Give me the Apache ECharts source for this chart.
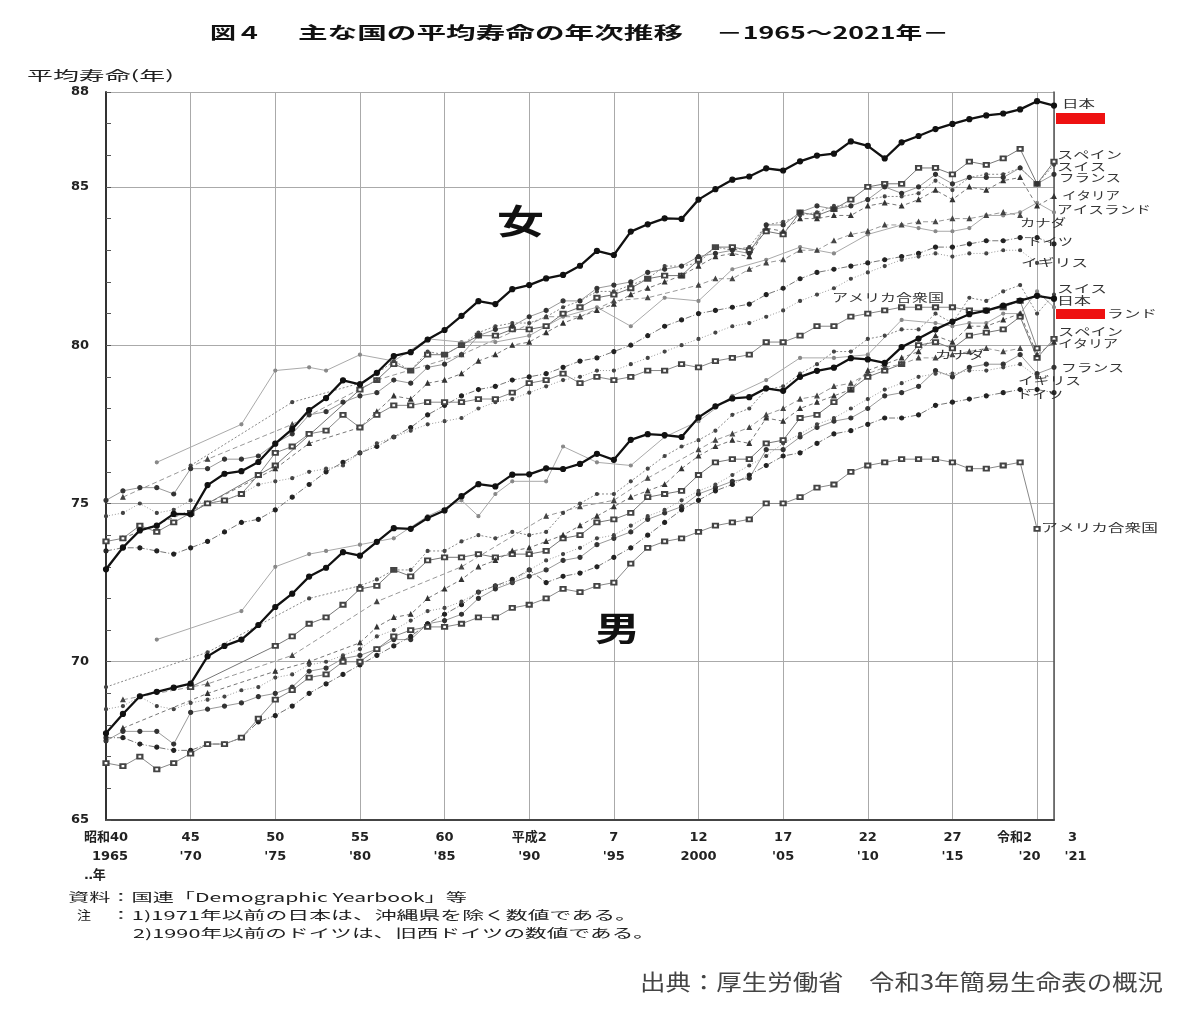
<!DOCTYPE html>
<html><head><meta charset="utf-8">
<script src="https://cdn.jsdelivr.net/npm/echarts@6/dist/echarts.min.js"></script>
<style>html,body{margin:0;padding:0;background:#fff}#c{width:1200px;height:1021px}</style>
</head><body><div id="c"></div>
<script>
// ---------- data ----------
const years = [1965,1966,1967,1968,1969,1970,1971,1972,1973,1974,1975,1976,1977,1978,1979,1980,1981,1982,1983,1984,1985,1986,1987,1988,1989,1990,1991,1992,1993,1994,1995,1996,1997,1998,1999,2000,2001,2002,2003,2004,2005,2006,2007,2008,2009,2010,2011,2012,2013,2014,2015,2016,2017,2018,2019,2020,2021];
const tickYears = [1965,1970,1975,1980,1985,1990,1995,2000,2005,2010,2015,2020,2021];
const tickEra = ['昭和40','45','50','55','60','平成2','7','12','17','22','27','令和2','3'];
const tickAD = ['1965',"'70","'75","'80","'85","'90","'95",'2000',"'05","'10","'15","'20","'21"];
const countries = ['日本','スペイン','スイス','フランス','イタリア','アイスランド','カナダ','ドイツ','イギリス','アメリカ合衆国'];

// female
const jpF = [72.92,73.61,74.15,74.30,74.67,74.66,75.58,75.94,76.02,76.31,76.89,77.35,77.95,78.33,78.89,78.76,79.13,79.66,79.78,80.18,80.48,80.93,81.39,81.30,81.77,81.90,82.11,82.22,82.51,82.98,82.85,83.59,83.82,84.01,83.99,84.60,84.93,85.23,85.33,85.59,85.52,85.81,85.99,86.05,86.44,86.30,85.90,86.41,86.61,86.83,86.99,87.14,87.26,87.32,87.45,87.71,87.57];
const esF = [null,null,null,null,null,74.7,null,null,null,null,76.2,null,null,null,null,78.6,78.9,79.4,79.2,79.7,79.7,80.0,80.3,80.3,80.5,80.5,80.6,81.0,81.2,81.5,81.6,81.8,82.1,82.2,82.2,82.7,83.1,83.1,83.0,83.6,83.5,84.2,84.1,84.3,84.6,85.0,85.1,85.1,85.6,85.6,85.4,85.8,85.7,85.9,86.2,85.1,85.8];
const chF = [null,null,null,null,null,76.2,null,null,null,null,null,78.2,null,null,null,78.8,79.1,79.5,79.2,79.8,79.7,80.0,80.4,80.6,80.7,80.7,80.9,81.2,81.4,81.7,81.7,81.9,82.1,82.5,82.5,82.6,83.1,83.0,83.1,83.8,83.9,84.1,84.2,84.4,84.4,84.6,84.7,84.7,84.8,85.2,84.9,85.3,85.4,85.4,85.6,85.1,85.7];
const frF = [75.1,75.4,75.5,75.5,75.3,76.1,76.1,76.4,76.4,76.5,76.9,77.2,77.8,77.9,78.2,78.4,78.5,78.9,78.8,79.3,79.4,79.7,80.3,80.5,80.6,80.9,81.1,81.4,81.4,81.8,81.9,82.0,82.3,82.4,82.5,82.8,82.9,83.0,82.9,83.8,83.8,84.2,84.4,84.3,84.4,84.6,85.0,84.8,85.0,85.4,85.1,85.3,85.3,85.3,85.6,85.1,85.4];
const itF = [null,73.9,null,null,null,null,75.0,null,null,null,76.1,null,76.9,null,null,77.4,77.9,78.4,78.3,78.8,78.9,79.1,79.5,79.7,80.0,80.1,80.4,80.7,80.9,81.1,81.3,81.6,81.8,82.0,82.2,82.5,82.8,82.9,82.8,83.7,83.6,84.0,84.0,84.1,84.1,84.4,84.5,84.4,84.6,84.9,84.6,85.0,84.9,85.2,85.3,84.4,84.7];
const isF = [null,null,null,76.3,null,null,null,null,77.5,null,79.2,null,79.3,79.2,null,79.7,null,79.5,null,80.2,null,80.1,null,80.1,null,80.3,null,80.9,null,81.2,null,80.6,null,81.5,null,81.4,null,82.4,null,82.7,null,83.1,null,82.9,null,83.5,null,83.8,83.7,83.6,83.6,83.7,84.1,84.1,84.2,84.5,84.2];
const caF = [null,75.2,null,null,null,null,76.4,null,null,null,null,77.5,null,null,null,null,78.9,null,null,null,null,79.7,null,null,null,null,80.9,null,80.9,null,81.4,null,81.5,null,null,81.9,82.1,82.1,82.4,82.6,82.7,83.0,83.0,83.3,83.5,83.6,83.8,83.8,83.9,83.9,84.0,84.0,84.1,84.2,84.1,null,null];
const deF = [73.5,73.6,73.6,73.5,73.4,73.6,73.8,74.1,74.4,74.5,74.8,75.2,75.6,76.0,76.3,76.6,76.8,77.1,77.4,77.8,78.1,78.4,78.6,78.7,78.9,79.0,79.1,79.3,79.5,79.6,79.8,80.0,80.3,80.6,80.8,81.0,81.1,81.2,81.3,81.6,81.8,82.1,82.3,82.4,82.5,82.6,82.7,82.8,82.9,83.1,83.1,83.2,83.3,83.3,83.4,83.4,83.2];
const gbF = [74.6,74.7,75.0,74.7,74.8,75.1,75.0,75.1,75.3,75.6,75.7,75.8,76.0,76.1,76.2,76.6,76.9,77.1,77.3,77.5,77.6,77.7,78.0,78.2,78.3,78.5,78.7,78.9,79.0,79.2,79.2,79.4,79.6,79.8,80.0,80.2,80.4,80.6,80.7,80.9,81.1,81.4,81.6,81.8,82.1,82.3,82.5,82.7,82.8,82.9,82.8,82.9,82.9,83.0,83.0,82.6,null];
const usF = [73.8,73.9,74.3,74.1,74.4,74.7,75.0,75.1,75.3,75.9,76.6,76.8,77.2,77.3,77.8,77.4,77.8,78.1,78.1,78.2,78.2,78.2,78.3,78.3,78.5,78.8,78.9,79.1,78.8,79.0,78.9,79.0,79.2,79.2,79.4,79.3,79.5,79.6,79.7,80.1,80.1,80.3,80.6,80.6,80.9,81.0,81.1,81.2,81.2,81.2,81.2,81.1,81.1,81.2,81.4,79.9,null];

// male
const jpM = [67.74,68.35,68.91,69.05,69.18,69.31,70.17,70.50,70.70,71.16,71.73,72.15,72.69,72.97,73.46,73.35,73.79,74.22,74.20,74.54,74.78,75.23,75.61,75.54,75.91,75.92,76.11,76.09,76.25,76.57,76.38,77.01,77.19,77.16,77.10,77.72,78.07,78.32,78.36,78.64,78.56,79.00,79.19,79.29,79.59,79.55,79.44,79.94,80.21,80.50,80.75,80.98,81.09,81.25,81.41,81.56,81.47];
const esM = [null,null,null,null,null,69.2,null,null,null,null,70.5,70.8,71.2,71.4,71.8,72.3,72.4,72.9,72.7,73.2,73.3,73.3,73.4,73.3,73.4,73.4,73.5,73.9,74.0,74.4,74.5,74.7,75.2,75.3,75.4,75.9,76.3,76.4,76.4,76.9,77.0,77.7,77.8,78.2,78.6,79.0,79.2,79.4,80.0,80.1,79.9,80.3,80.4,80.5,80.9,79.6,80.2];
const chM = [69.2,null,null,null,null,null,70.3,null,null,null,null,null,72.0,null,null,72.4,72.6,72.9,72.9,73.5,73.5,73.8,74.0,73.9,74.1,74.0,74.1,74.7,75.0,75.3,75.3,75.7,76.1,76.5,76.8,77.0,77.3,77.8,78.0,78.6,78.7,79.1,79.4,79.8,79.8,80.2,80.3,80.5,80.5,81.0,80.7,81.5,81.4,81.7,81.9,81.0,81.6];
const frM = [67.5,67.8,67.8,67.8,67.4,68.4,68.5,68.6,68.7,68.9,69.0,69.2,69.7,69.8,70.1,70.2,70.4,70.7,70.7,71.2,71.3,71.5,72.0,72.3,72.5,72.7,72.9,73.2,73.3,73.7,73.9,74.1,74.5,74.7,74.9,75.3,75.5,75.7,75.8,76.7,76.7,77.1,77.4,77.6,77.7,78.0,78.4,78.5,78.7,79.2,79.0,79.3,79.4,79.4,79.7,79.1,79.3];
const itM = [null,67.9,null,null,null,null,69.0,null,null,null,69.7,null,70.0,null,null,70.6,71.1,71.4,71.5,72.0,72.3,72.6,73.0,73.2,73.5,73.6,73.8,74.0,74.3,74.6,74.9,75.2,75.4,75.6,76.1,76.5,76.8,77.0,76.9,77.7,77.6,78.0,78.2,78.4,78.6,79.2,79.4,79.6,79.8,80.3,80.1,80.6,80.6,80.8,81.0,79.7,80.1];
const isM = [null,null,null,70.7,null,null,null,null,71.6,null,73.0,null,73.4,73.5,null,73.7,null,73.9,null,74.6,null,75.1,74.6,75.3,75.7,null,75.7,76.8,null,76.3,null,76.2,null,77.1,null,77.6,null,78.4,null,78.9,null,79.6,null,79.6,null,79.7,null,80.8,null,80.7,80.6,80.7,80.7,81.0,81.0,81.7,81.2];
const caM = [null,68.8,null,null,null,null,69.3,null,null,null,null,70.2,null,null,null,null,71.9,null,null,null,null,73.0,null,null,null,null,74.6,null,74.9,null,75.1,null,75.8,null,null,76.7,77.0,77.2,77.4,77.8,78.0,78.3,78.4,78.7,78.8,79.1,79.3,79.4,79.6,79.6,79.7,79.8,79.9,79.8,79.9,null,null];
const deM = [67.6,67.6,67.4,67.3,67.2,67.2,67.4,67.4,67.6,68.1,68.3,68.6,69.0,69.3,69.6,69.9,70.2,70.5,70.8,71.2,71.5,71.8,72.2,72.4,72.6,72.9,72.5,72.7,72.8,73.0,73.3,73.6,74.0,74.4,74.8,75.1,75.4,75.6,75.9,76.2,76.5,76.6,76.9,77.2,77.3,77.5,77.7,77.7,77.8,78.1,78.2,78.3,78.4,78.5,78.6,78.6,78.5];
const gbM = [68.5,68.6,68.9,68.6,68.5,68.7,68.8,68.9,69.1,69.2,69.5,69.6,69.9,70.0,70.2,70.4,70.8,71.0,71.3,71.6,71.7,71.9,72.2,72.4,72.5,72.9,73.2,73.4,73.6,73.9,74.0,74.3,74.6,74.8,75.1,75.4,75.6,75.9,76.2,76.5,76.9,77.2,77.5,77.7,78.0,78.3,78.6,78.8,79.0,79.1,79.1,79.2,79.2,79.3,79.4,79.0,null];
const usM = [66.8,66.7,67.0,66.6,66.8,67.1,67.4,67.4,67.6,68.2,68.8,69.1,69.5,69.6,70.0,70.0,70.4,70.8,71.0,71.1,71.1,71.2,71.4,71.4,71.7,71.8,72.0,72.3,72.2,72.4,72.5,73.1,73.6,73.8,73.9,74.1,74.3,74.4,74.5,75.0,75.0,75.2,75.5,75.6,76.0,76.2,76.3,76.4,76.4,76.4,76.3,76.1,76.1,76.2,76.3,74.2,null];

const femaleData = [jpF,esF,chF,frF,itF,isF,caF,deF,gbF,usF];
const maleData   = [jpM,esM,chM,frM,itM,isM,caM,deM,gbM,usM];

// ---------- styles ----------
const styles = [
  {symbol:'circle', size:5, mark:'#111', line:'#111', width:2.3, type:'solid', z:5},
  {symbol:'emptyRect', size:[5,4], mark:'#444', line:'#777', width:1, type:'solid', z:3},
  {symbol:'circle', size:3, mark:'#444', line:'#888', width:1, type:[2,2], z:3},
  {symbol:'circle', size:4, mark:'#333', line:'#999', width:1, type:'solid', z:3},
  {symbol:'triangle', size:4, mark:'#333', line:'#777', width:1, type:[4,3], z:3},
  {symbol:'circle', size:3, mark:'#888', line:'#aaa', width:1, type:'solid', z:2},
  {symbol:'triangle', size:4, mark:'#444', line:'#999', width:1, type:[5,3], z:3},
  {symbol:'circle', size:4, mark:'#222', line:'#777', width:1, type:[6,2,1,2], z:3},
  {symbol:'circle', size:3, mark:'#444', line:'#999', width:1, type:[1,2], z:3},
  {symbol:'emptyRect', size:[5,4], mark:'#444', line:'#888', width:1, type:'solid', z:3}
];

const FONT = '"Noto Sans CJK JP", "Noto Sans", sans-serif';
const AXFONT = '"DejaVu Sans", "Noto Sans CJK JP", sans-serif';

const series = [];
function addSeries(data, i, sex) {
  const s = styles[i];
  series.push({
    name: countries[i] + sex, type:'line', data: data, connectNulls:true,
    symbol: s.symbol, symbolSize: s.size, showSymbol:true, showAllSymbol:true,
    lineStyle:{color:s.line, width:s.width, type:s.type},
    itemStyle:{color:s.mark, borderColor:s.mark, borderWidth:1.2},
    z: s.z, silent:true, animation:false
  });
}
countries.forEach((c,i)=>{ addSeries(femaleData[i], i, '（女）'); addSeries(maleData[i], i, '（男）'); });

// ---------- text helper (stretched text like reference) ----------
const mctx = document.createElement('canvas').getContext('2d');
function fitText(text, left, right, cy, size, weight, color, z) {
  const font = (weight||'normal') + ' ' + size + 'px ' + FONT;
  mctx.font = font;
  const w = mctx.measureText(text).width || 1;
  return {type:'text', x:left, y:cy, scaleX:(right-left)/w, z:z||50, silent:true,
    style:{text:text, font:font, fill:color||'#333', align:'left', verticalAlign:'middle',
           textAlign:'left', textVerticalAlign:'middle'}};
}

const graphics = [
  fitText('図４', 210, 262, 33, 17, 'bold', '#111'),
  fitText('主な国の平均寿命の年次推移', 298, 683, 33, 17, 'bold', '#111'),
  fitText('－1965～2021年－', 716, 949, 33, 17, 'bold', '#111'),
  fitText('平均寿命(年)', 27, 174, 75, 13, 'normal', '#222'),
  fitText('女', 497, 544, 221, 34, 'bold', '#111'),
  fitText('男', 595, 640, 628, 34, 'bold', '#111'),
  // female labels
  fitText('日本', 1062, 1095, 104, 11, 'normal', '#333'),
  fitText('スペイン', 1057, 1122, 155, 11, 'normal', '#333'),
  fitText('スイス', 1057, 1106, 167, 11, 'normal', '#333'),
  fitText('フランス', 1059, 1121, 178, 11, 'normal', '#333'),
  fitText('イタリア', 1062, 1120, 196, 11, 'normal', '#333'),
  fitText('アイスランド', 1057, 1151, 210, 11, 'normal', '#333'),
  fitText('カナダ', 1020, 1066, 223, 11, 'normal', '#333'),
  fitText('ドイツ', 1027, 1073, 242, 11, 'normal', '#333'),
  fitText('イギリス', 1021, 1088, 263, 11, 'normal', '#333'),
  fitText('アメリカ合衆国', 832, 944, 298, 11, 'normal', '#333'),
  // male labels
  fitText('スイス', 1057, 1107, 289, 11, 'normal', '#333'),
  fitText('日本', 1057, 1091, 301, 11, 'normal', '#333'),
  fitText('アイスランド', 1057, 1157, 314, 11, 'normal', '#333'),
  fitText('スペイン', 1058, 1123, 332, 11, 'normal', '#333'),
  fitText('イタリア', 1058, 1118, 344, 11, 'normal', '#333'),
  fitText('フランス', 1061, 1124, 368, 11, 'normal', '#333'),
  fitText('イギリス', 1018, 1081, 381, 11, 'normal', '#333'),
  fitText('ドイツ', 1017, 1063, 395, 11, 'normal', '#333'),
  fitText('カナダ', 935, 985, 355, 11, 'normal', '#333'),
  fitText('アメリカ合衆国', 1041, 1158, 528, 11, 'normal', '#333'),
  // notes
  fitText('資料：国連「Demographic Yearbook」等', 68, 467, 897, 12, 'normal', '#222'),
  fitText('注', 77, 91, 915, 12, 'normal', '#222'),
  fitText('：1)1971年以前の日本は、沖縄県を除く数値である。', 110, 637, 915, 12, 'normal', '#222'),
  fitText('2)1990年以前のドイツは、旧西ドイツの数値である。', 133, 655, 933, 12, 'normal', '#222'),
  fitText('出典：厚生労働省　令和3年簡易生命表の概況', 640, 1163, 982, 22, 'normal', '#444'),
  // red bars
  {type:'rect', shape:{x:1056, y:113, width:49, height:11}, style:{fill:'#ee1111'}, z:100, silent:true},
  {type:'rect', shape:{x:1056, y:309, width:49, height:10}, style:{fill:'#ee1111'}, z:100, silent:true}
];

const lblBase = {fontSize:13, fontWeight:'bold', lineHeight:19, color:'#222', fontFamily:AXFONT};
const k20 = tickYears.indexOf(2020), k21 = tickYears.indexOf(2021);

const option = {
  animation:false,
  backgroundColor:'#fff',
  grid:{left:106, right:146, top:92, bottom:201, containLabel:false},
  xAxis:{
    type:'category', data: years.map(String), boundaryGap:false,
    axisLine:{show:true, lineStyle:{color:'#444', width:2}},
    axisTick:{show:false},
    splitLine:{show:true, interval:(i,v)=>tickYears.indexOf(+v)>=0, lineStyle:{color:'#aaa', width:1}},
    axisLabel:{
      // 2020 and 2021 share one label block (they sit 1 year apart)
      interval:(i,v)=>tickYears.indexOf(+v)>=0 && +v!==2021, margin:8, color:'#222',
      showMinLabel:true, showMaxLabel:true, hideOverlap:false,
      formatter:(v)=>{
        const k = tickYears.indexOf(+v);
        if (k<0 || +v===2021) return '';
        if (+v===1965) return '{a|'+tickEra[k]+'}\n{b|'+tickAD[k]+'}\n{u|‥年}';
        if (+v===2020) return '{a|'+tickEra[k20]+'}{r1|'+tickEra[k21]+'}\n{l2|'+tickAD[k20]+'}{r2|'+tickAD[k21]+'}';
        return '{a|'+tickEra[k]+'}\n{a|'+tickAD[k]+'}';
      },
      rich:{
        a:Object.assign({}, lblBase),
        b:Object.assign({}, lblBase, {padding:[0,0,0,8]}),
        u:Object.assign({}, lblBase, {padding:[0,22,0,0]}),
        r1:Object.assign({}, lblBase, {padding:[0,0,0,36]}),
        l2:Object.assign({}, lblBase, {padding:[0,0,0,31]}),
        r2:Object.assign({}, lblBase, {padding:[0,0,0,24]})
      }
    }
  },
  yAxis:[
    {type:'value', min:65, max:88, interval:5, position:'left',
     axisLine:{show:true, lineStyle:{color:'#333', width:2}},
     axisTick:{show:false},
     axisLabel:{color:'#222', fontSize:13, fontWeight:'bold', fontFamily:AXFONT, margin:17},
     splitLine:{show:true, lineStyle:{color:'#aaa', width:1}}},
    {type:'value', min:65, max:88, interval:1, position:'left',
     axisLine:{show:false}, axisLabel:{show:false}, splitLine:{show:false},
     axisTick:{show:true, inside:true, length:5, lineStyle:{color:'#555'}}},
    {type:'value', min:65, max:88, interval:5, position:'right',
     axisLine:{show:true, lineStyle:{color:'#555', width:1.5}},
     axisTick:{show:false}, axisLabel:{show:false}, splitLine:{show:false}}
  ],
  series: series,
  graphic: graphics
};

const chart = echarts.init(document.getElementById('c'));
chart.setOption(option);
</script>
</body></html>
